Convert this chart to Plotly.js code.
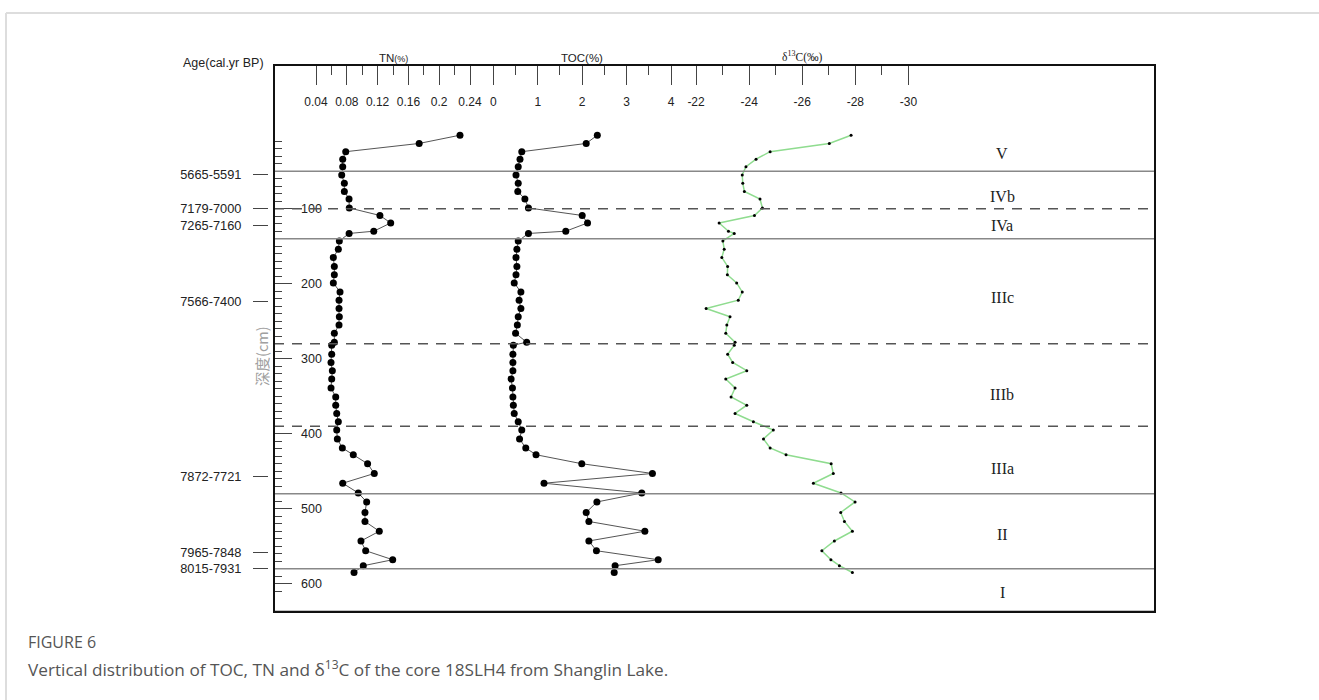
<!DOCTYPE html>
<html>
<head>
<meta charset="utf-8">
<script src="https://cdn.plot.ly/plotly-3.0.1.min.js"></script>
<style>
html,body{margin:0;padding:0;background:#fff;}
#chart{width:1319px;height:700px;}
</style>
</head>
<body>
<div id="chart"></div>
<script>
// ---- data ----
const depth = [2,13,24,34,44,55,66,77,87,99,109,119,130,133,143,154,165,177,188,199,211,222,233,244,255,266,278,282,294,305,316,327,339,351,362,373,384,395,407,419,428,440,453,466,479,491,505,517,530,543,556,568,576,585];
const tn = [0.227,0.174,0.0786,0.0747,0.0747,0.0734,0.0768,0.0768,0.0829,0.0832,0.123,0.137,0.115,0.083,0.0703,0.069,0.0625,0.0638,0.0638,0.0625,0.0712,0.0699,0.0699,0.0703,0.0699,0.0638,0.0638,0.0604,0.0604,0.0595,0.0612,0.0604,0.0595,0.0656,0.0656,0.0669,0.069,0.0669,0.0677,0.0742,0.0884,0.107,0.1157,0.0747,0.0949,0.1058,0.1036,0.1036,0.1222,0.0984,0.1045,0.1396,0.1014,0.0894];
const toc = [2.34,2.09,0.64,0.60,0.56,0.51,0.56,0.55,0.71,0.79,2.00,2.12,1.63,0.79,0.56,0.53,0.51,0.53,0.51,0.47,0.62,0.58,0.62,0.56,0.54,0.50,0.75,0.45,0.44,0.44,0.44,0.40,0.43,0.44,0.45,0.47,0.56,0.64,0.59,0.73,0.96,1.99,3.58,1.14,3.34,2.33,2.09,2.15,3.41,2.15,2.32,3.71,2.74,2.72];
const d13c = [-27.84,-27.02,-24.79,-24.26,-23.88,-23.74,-23.76,-23.82,-24.41,-24.50,-24.20,-22.87,-23.22,-23.44,-23.01,-23.06,-22.97,-23.19,-23.18,-23.53,-23.74,-23.59,-22.38,-23.28,-23.16,-23.12,-23.47,-23.44,-23.19,-23.38,-23.91,-23.12,-23.47,-23.32,-23.91,-23.47,-24.16,-24.91,-24.54,-24.79,-25.39,-27.09,-27.17,-26.42,-27.46,-27.99,-27.45,-27.59,-27.89,-27.21,-26.74,-27.08,-27.40,-27.89];

const tnTicks = [0.04,0.08,0.12,0.16,0.2,0.24];
const tnTickText = ["0.04","0.08","0.12","0.16","0.2","0.24"];
const tnMinor = [0.06,0.10,0.14,0.18,0.22];
const tocTicks = [0,1,2,3,4];
const tocMinor = [0.5,1.5,2.5,3.5];
const cTicks = [-22,-24,-26,-28,-30];
const cMinor = [-23,-25,-27,-29];
const depthTicks = [100,200,300,400,500,600];
const depthMinor = [10,20,30,40,50,60,70,80,90,110,120,130,140,150,160,170,180,190,210,220,230,240,250,260,270,280,290,310,320,330,340,350,360,370,380,390,410,420,430,440,450,460,470,480,490,510,520,530,540,550,560,570,580,590,610];
const ageDepths = [55,100,123,224,457,559,580];
const ageLabels = ["5665-5591","7179-7000","7265-7160","7566-7400","7872-7721","7965-7848","8015-7931"];
const zoneNames = ["V","IVb","IVa","IIIc","IIIb","IIIa","II","I"];
const zoneDepths = [26,84,123,219,348,446,535,612];
const solidBounds = [50,140,480,580];
const dashedBounds = [100,280,390];

// ---- geometry ----
const W = 1319, H = 700;
const mL = 200, mR = 164, mT = 65, mB = 88;
const pw = W - mL - mR, ph = H - mT - mB;
const px = v => (v - mL) / pw;        // pixel x -> paper x
const py = v => (H - mB - v) / ph;    // pixel y -> paper y
const d0 = px(274);

const sans = "Liberation Sans, Arial, sans-serif";
const serif = "Liberation Serif, Times New Roman, serif";
const tickFont = {family: sans, size: 12, color: "#222"};

function topAxis(range, tv, tt, minor, extra) {
  return Object.assign({
    domain: [d0, 1], range: range, side: "top", anchor: "y",
    tickmode: "array", tickvals: tv, ticktext: tt,
    ticks: "inside", ticklen: 20, tickwidth: 1, tickcolor: "#444",
    ticklabelposition: "inside", ticklabelstandoff: 12,
    minor: {tickmode: "array", tickvals: minor, ticks: "inside", ticklen: 10, tickwidth: 1, tickcolor: "#444", showgrid: false},
    tickfont: tickFont, showgrid: false, zeroline: false, showline: false, fixedrange: true
  }, extra || {});
}

const traces = [
  {x: tn, y: depth, xaxis: "x", yaxis: "y", type: "scatter", mode: "lines+markers",
   line: {color: "#555", width: 1}, marker: {color: "#000", size: 7}, hoverinfo: "skip"},
  {x: toc, y: depth, xaxis: "x2", yaxis: "y", type: "scatter", mode: "lines+markers",
   line: {color: "#555", width: 1}, marker: {color: "#000", size: 7}, hoverinfo: "skip"},
  {x: d13c, y: depth, xaxis: "x3", yaxis: "y", type: "scatter", mode: "lines+markers",
   line: {color: "#8fdc8f", width: 1.5}, marker: {color: "#000", size: 3}, hoverinfo: "skip"},
  // carriers so the age axis and the depth-label axis are drawn
  {x: ageDepths.map(() => null), y: ageDepths, xaxis: "x", yaxis: "y2", type: "scatter", mode: "markers", hoverinfo: "skip"},
  {x: depthTicks.map(() => null), y: depthTicks, xaxis: "x", yaxis: "y3", type: "scatter", mode: "markers", hoverinfo: "skip"}
];

const shapes = [];
solidBounds.forEach(d => shapes.push({type: "line", xref: "paper", yref: "y", x0: d0, x1: 1, y0: d, y1: d, line: {color: "#888", width: 1.5}}));
dashedBounds.forEach(d => shapes.push({type: "line", xref: "paper", yref: "y", x0: d0, x1: 1, y0: d, y1: d, line: {color: "#555", width: 1.5, dash: "10px,8px"}}));
shapes.push({type: "rect", xref: "paper", yref: "paper", x0: d0, x1: 1, y0: 0, y1: 1, line: {color: "#111", width: 2}, layer: "above"});
shapes.push({type: "line", xref: "paper", yref: "paper", x0: d0, x1: 1, y0: py(611.5), y1: py(611.5), line: {color: "#111", width: 1.5}, layer: "above"});
// outer page frame
shapes.push({type: "line", xref: "paper", yref: "paper", x0: px(6), x1: px(1319), y0: py(13), y1: py(13), line: {color: "#dddddd", width: 2}});
shapes.push({type: "line", xref: "paper", yref: "paper", x0: px(6), x1: px(6), y0: py(13), y1: py(700), line: {color: "#dddddd", width: 2}});

const annotations = [
  {text: "Age(cal.yr BP)", xref: "paper", yref: "paper", x: px(266), y: py(63), xanchor: "right", yanchor: "middle", showarrow: false, font: {family: sans, size: 12.5, color: "#222"}},
  {text: "TN<span style='font-size:9px'>(%)</span>", xref: "x", yref: "paper", x: 0.14, y: py(58), xanchor: "center", yanchor: "middle", showarrow: false, font: {family: sans, size: 11.5, color: "#222"}},
  {text: "TOC(%)", xref: "x2", yref: "paper", x: 2, y: py(58), xanchor: "center", yanchor: "middle", showarrow: false, font: {family: sans, size: 11.5, color: "#222"}},
  {text: "δ<sup>13</sup>C(‰)", xref: "x3", yref: "paper", x: -26, y: py(57), xanchor: "center", yanchor: "middle", showarrow: false, font: {family: serif, size: 11.5, color: "#222"}},
  {text: "深度(cm)", xref: "paper", yref: "paper", x: px(262), y: py(356), textangle: -90, xanchor: "center", yanchor: "middle", showarrow: false, font: {family: "Noto Sans CJK SC, serif", size: 14.5, color: "#a0a0a0"}},
  {text: "FIGURE 6", xref: "paper", yref: "paper", x: px(26), y: py(642), xanchor: "left", yanchor: "middle", showarrow: false, font: {family: "Open Sans, sans-serif", size: 16, color: "#555"}},
  {text: "Vertical distribution of TOC, TN and δ<sup>13</sup>C of the core 18SLH4 from Shanglin Lake.", xref: "paper", yref: "paper", x: px(26), y: py(668), xanchor: "left", yanchor: "middle", showarrow: false, font: {family: "Open Sans, sans-serif", size: 17.2, color: "#555"}}
];
zoneNames.forEach((z, i) => annotations.push({text: z, xref: "paper", yref: "y", x: px(1002), y: zoneDepths[i], xanchor: "center", yanchor: "middle", showarrow: false, font: {family: serif, size: 16, color: "#222"}}));

const layout = {
  width: W, height: H, margin: {l: mL, r: mR, t: mT, b: mB, pad: 0},
  paper_bgcolor: "#fff", plot_bgcolor: "#fff", showlegend: false,
  xaxis: topAxis([-0.01455, 1.1296], tnTicks, tnTickText, tnMinor),
  xaxis2: topAxis([-4.936, 14.89], tocTicks, tocTicks.map(String), tocMinor, {overlaying: "x"}),
  xaxis3: topAxis([-6.10, -39.29], cTicks, cTicks.map(String), cMinor, {overlaying: "x"}),
  yaxis: {
    domain: [0, 1], range: [637.7, -91.6], anchor: "x",
    tickmode: "array", tickvals: depthTicks,
    ticks: "inside", ticklen: 18, tickwidth: 1, tickcolor: "#444", showticklabels: false,
    minor: {tickmode: "array", tickvals: depthMinor, ticks: "inside", ticklen: 8, tickwidth: 1, tickcolor: "#444", showgrid: false},
    showgrid: false, zeroline: false, showline: false, fixedrange: true
  },
  yaxis2: {
    overlaying: "y", matches: "y", anchor: "free", position: px(268), side: "left",
    tickmode: "array", tickvals: ageDepths, ticktext: ageLabels,
    ticks: "outside", ticklen: 15, tickwidth: 1, tickcolor: "#444", ticklabelstandoff: 9,
    tickfont: {family: sans, size: 12.8, color: "#222"}, showgrid: false, zeroline: false, showline: false, fixedrange: true
  },
  yaxis3: {
    overlaying: "y", matches: "y", anchor: "free", position: px(300), side: "right",
    tickmode: "array", tickvals: depthTicks, ticktext: depthTicks.map(String),
    ticks: "", ticklabelstandoff: 0,
    tickfont: {family: sans, size: 12.5, color: "#222"}, showgrid: false, zeroline: false, showline: false, fixedrange: true
  },
  shapes: shapes, annotations: annotations
};

Plotly.newPlot("chart", traces, layout, {staticPlot: true, displayModeBar: false});
</script>
</body>
</html>
